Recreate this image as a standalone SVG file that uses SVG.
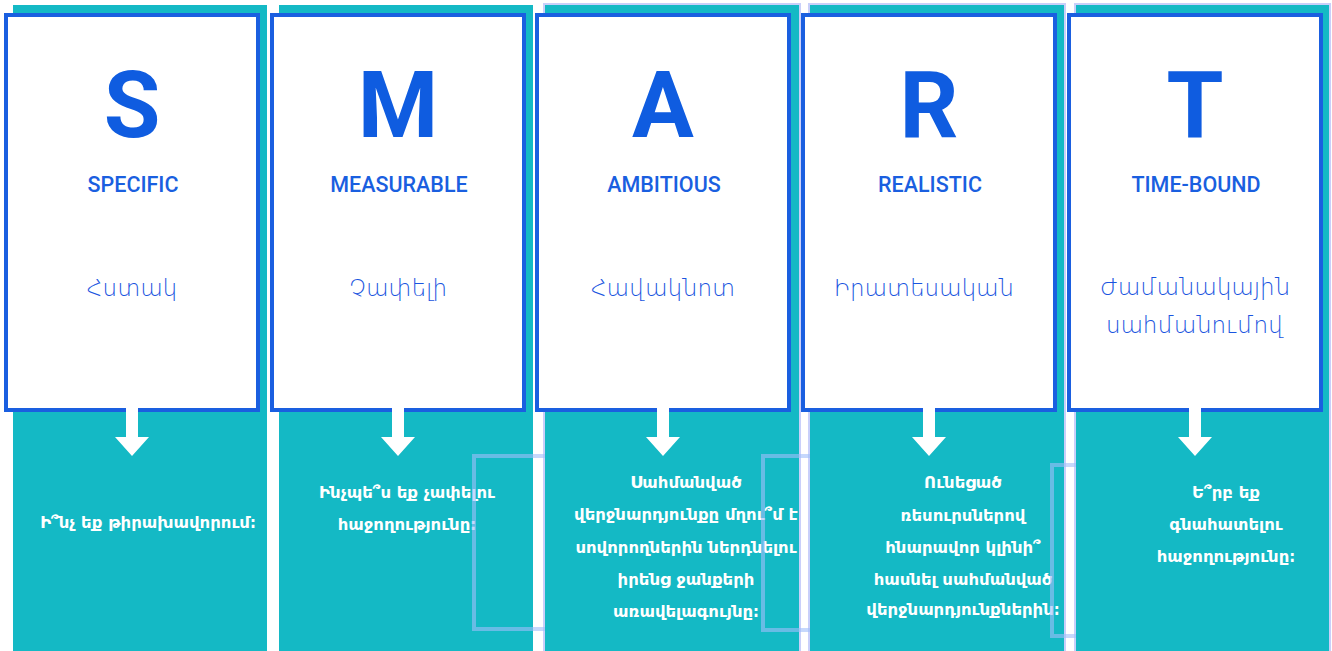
<svg xmlns="http://www.w3.org/2000/svg" width="1332" height="651" viewBox="0 0 1332 651">
<style>
.teal{fill:#14b9c5}
.glow{fill:none;stroke:#c9cffa;stroke-width:2}
.card{fill:#ffffff;stroke:#1a5fe0;stroke-width:4}
.big{font-family:Roboto,"Liberation Sans",sans-serif;font-weight:700;font-size:92px;fill:#0f5ce0;text-anchor:middle}
.en{font-family:Roboto,"Liberation Sans",sans-serif;font-weight:500;font-size:21.5px;fill:#1a5fe0;text-anchor:middle}
.hy{font-family:"DejaVu Sans","Noto Sans",sans-serif;font-weight:200;font-size:23px;fill:#1a55e0;text-anchor:middle}
.q{font-family:"DejaVu Sans","Noto Sans",sans-serif;font-weight:700;font-size:16.5px;fill:#ffffff;text-anchor:middle}
.br{fill:none;stroke:#a0befa;stroke-opacity:0.6;stroke-width:4}
.arr{fill:#ffffff}
</style>
<rect width="1332" height="651" fill="#ffffff"/>
<g id="col-s">
<rect class="teal" x="13" y="5" width="254" height="646"/>
<rect class="card" x="6" y="15" width="252" height="395"/>
<text class="big" x="132" y="137">S</text>
<text class="en" x="133" y="192">SPECIFIC</text>
<text class="hy" x="132" y="296">Հստակ</text>
<text class="q" x="148" y="528">Ի՞նչ եք թիրախավորում։</text>
</g>
<g id="col-m">
<rect class="teal" x="279" y="5" width="254" height="646"/>
<rect class="card" x="272" y="15" width="252" height="395"/>
<text class="big" x="398" y="137">M</text>
<text class="en" x="399" y="192">MEASURABLE</text>
<text class="hy" x="398" y="296">Չափելի</text>
<text class="q" x="407" y="498">Ինչպե՞ս եք չափելու</text>
<text class="q" x="407" y="530">հաջողությունը։</text>
</g>
<g id="col-a">
<rect class="glow" x="544" y="4" width="256" height="650"/>
<rect class="teal" x="545" y="5" width="254" height="646"/>
<rect class="card" x="537" y="15" width="252" height="395"/>
<text class="big" x="663" y="137">A</text>
<text class="en" x="664" y="192">AMBITIOUS</text>
<text class="hy" x="663" y="296">Հավակնոտ</text>
<text class="q" x="686" y="488">Սահմանված</text>
<text class="q" x="686" y="520">վերջնարդյունքը մղու՞մ է</text>
<text class="q" x="686" y="553">սովորողներին ներդնելու</text>
<text class="q" x="686" y="585">իրենց ջանքերի</text>
<text class="q" x="686" y="617">առավելագույնը։</text>
</g>
<g id="col-r">
<rect class="glow" x="809" y="4" width="256" height="650"/>
<rect class="teal" x="810" y="5" width="254" height="646"/>
<rect class="card" x="803" y="15" width="252" height="395"/>
<text class="big" x="929" y="137">R</text>
<text class="en" x="930" y="192">REALISTIC</text>
<text class="hy" x="924" y="296">Իրատեսական</text>
<text class="q" x="963" y="488">Ունեցած</text>
<text class="q" x="963" y="521">ռեսուրսներով</text>
<text class="q" x="963" y="553">հնարավոր կլինի՞</text>
<text class="q" x="963" y="585">հասնել սահմանված</text>
<text class="q" x="963" y="615">վերջնարդյունքներին։</text>
</g>
<g id="col-t">
<rect class="glow" x="1075" y="4" width="255" height="650"/>
<rect class="teal" x="1076" y="5" width="253" height="646"/>
<rect class="card" x="1069" y="15" width="252" height="395"/>
<text class="big" x="1195" y="137">T</text>
<text class="en" x="1196" y="192">TIME-BOUND</text>
<text class="hy" x="1195" y="295">Ժամանակային</text>
<text class="hy" x="1195" y="333">սահմանումով</text>
<text class="q" x="1226" y="498">Ե՞րբ եք</text>
<text class="q" x="1226" y="530">գնահատելու</text>
<text class="q" x="1226" y="562">հաջողությունը։</text>
</g>
<g id="brackets">
<path class="br" d="M545,456 H474 V629 H545"/>
<path class="br" d="M810,456 H763 V630 H810"/>
<path class="br" d="M1076,465 H1052 V636 H1076"/>
</g>
<g id="connectors">
<polygon class="arr" points="126,408 138,408 138,437 149,437 132,456 115,437 126,437"/>
<polygon class="arr" points="392,408 404,408 404,437 415,437 398,456 381,437 392,437"/>
<polygon class="arr" points="657,408 669,408 669,437 680,437 663,456 646,437 657,437"/>
<polygon class="arr" points="923,408 935,408 935,437 946,437 929,456 912,437 923,437"/>
<polygon class="arr" points="1189,408 1201,408 1201,437 1212,437 1195,456 1178,437 1189,437"/>
</g>
</svg>
